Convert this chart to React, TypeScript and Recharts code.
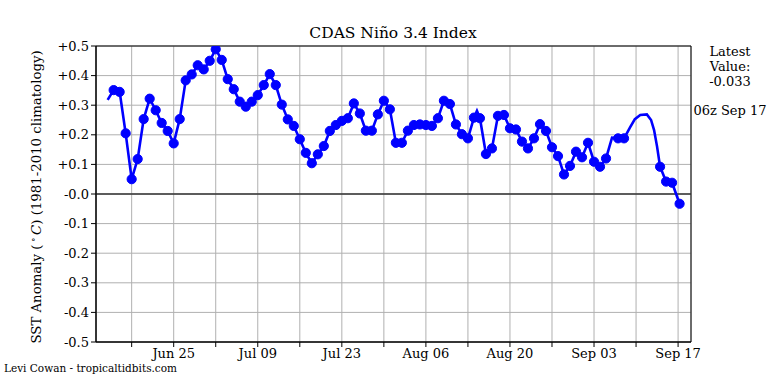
import React from 'react';
import {
  LineChart,
  Line,
  XAxis,
  YAxis,
  CartesianGrid,
  ReferenceLine,
  ReferenceArea,
} from 'recharts';

// days counted from Jun 25 (00z)
const DAYS = [
  -11, -10, -9, -8, -7, -6, -5, -4, -3, -2, -1, 0, 1, 2, 3, 4, 5, 6, 7, 8, 9, 10,
  11, 12, 13, 14, 15, 16, 17, 18, 19, 20, 21, 22, 23, 24, 25, 26, 27, 28, 29, 30,
  31, 32, 33, 34, 35, 36, 37, 38, 39, 40, 41, 42, 43, 44, 45, 46, 47, 48, 49, 50,
  50.5, 51, 52, 53, 54, 55, 56, 57, 58, 59, 60, 61, 62, 63, 64, 65, 66, 67, 68, 69,
  70, 71, 72, 73, 74, 75, 76, 76.8, 77.7, 78.8, 79.5, 80, 80.5, 81, 82, 83, 84.25,
];
const NINO34 = [
  0.318, 0.351, 0.345, 0.205, 0.05, 0.118, 0.253, 0.322, 0.283, 0.24, 0.213, 0.171,
  0.253, 0.384, 0.404, 0.435, 0.421, 0.45, 0.489, 0.453, 0.388, 0.354, 0.312, 0.295,
  0.312, 0.334, 0.368, 0.405, 0.368, 0.302, 0.252, 0.23, 0.185, 0.139, 0.104, 0.134,
  0.162, 0.213, 0.233, 0.247, 0.256, 0.306, 0.272, 0.214, 0.214, 0.269, 0.315, 0.286,
  0.173, 0.173, 0.214, 0.233, 0.235, 0.233, 0.23, 0.256, 0.315, 0.304, 0.235, 0.202,
  0.188, 0.258, 0.281, 0.256, 0.135, 0.154, 0.264, 0.267, 0.222, 0.218, 0.177, 0.154,
  0.188, 0.236, 0.213, 0.158, 0.128, 0.066, 0.095, 0.143, 0.124, 0.173, 0.109, 0.092,
  0.12, 0.19, 0.188, 0.188, 0.225, 0.253, 0.267, 0.269, 0.25, 0.216, 0.16, 0.092,
  0.042, 0.038, -0.033,
];
// samples drawn without a marker
const NO_MARKER = [-11, 50.5, 73, 76, 76.8, 77.7, 78.8, 79.5, 80, 80.5];

const X_TICKS = [-7, 0, 7, 14, 21, 28, 35, 42, 49, 56, 63, 70, 77, 84];
const X_LABELS: Record<number, string> = {
  0: 'Jun 25',
  14: 'Jul 09',
  28: 'Jul 23',
  42: 'Aug 06',
  56: 'Aug 20',
  70: 'Sep 03',
  84: 'Sep 17',
};
const Y_TICKS = [0.5, 0.4, 0.3, 0.2, 0.1, 0, -0.1, -0.2, -0.3, -0.4, -0.5];
const Y_LABELS = ['+0.5', '+0.4', '+0.3', '+0.2', '+0.1', '-0.0', '-0.1', '-0.2', '-0.3', '-0.4', '-0.5'];

const X_MIN = -12.94;
const X_MAX = 86.15;

const data = DAYS.map((d, i) => ({ day: d, value: NINO34[i] }));

const FONT = "'DejaVu Serif', serif";
const tickStyle = { fontSize: 13, fill: '#000', fontFamily: FONT };

export default function App() {
  const renderDot = (props: any) => {
    const { cx, cy, index, payload } = props;
    if (NO_MARKER.includes(payload.day)) return <g key={`d-${index}`} />;
    return <circle key={`d-${index}`} cx={cx} cy={cy} r={4.6} fill="#0000ff" stroke="#0000ff" strokeWidth={1} />;
  };

  return (
    <div style={{ position: 'absolute', left: 0, top: 0, width: 768, height: 384, background: '#fff', fontFamily: FONT }}>
      <LineChart
        width={768}
        height={384}
        data={data}
        margin={{ top: 46, right: 77, left: 36, bottom: 12 }}
        style={{ fontFamily: FONT }}
      >
        <CartesianGrid stroke="#b0b0b0" strokeWidth={1} />
        <XAxis
          dataKey="day"
          type="number"
          domain={[X_MIN, X_MAX]}
          ticks={X_TICKS}
          tickFormatter={(v) => X_LABELS[v] ?? ''}
          tick={tickStyle}
          tickLine={{ stroke: '#000' }}
          tickSize={5}
          axisLine={{ stroke: '#000' }}
          height={30}
          allowDataOverflow
        />
        <YAxis
          type="number"
          domain={[-0.5, 0.5]}
          ticks={Y_TICKS}
          tickFormatter={(v) => Y_LABELS[Y_TICKS.findIndex((t) => Math.abs(t - v) < 1e-6)]}
          tick={tickStyle}
          tickLine={{ stroke: '#000' }}
          tickSize={5}
          axisLine={{ stroke: '#000' }}
          width={60}
          allowDataOverflow
        />
        <ReferenceLine y={0} stroke="#333" strokeWidth={1.5} />
        <Line
          type="linear"
          dataKey="value"
          stroke="#0000ff"
          strokeWidth={2.6}
          dot={renderDot}
          activeDot={false}
          isAnimationActive={false}
        />
        <ReferenceArea x1={X_MIN} x2={X_MAX} y1={-0.5} y2={0.5} fill="none" fillOpacity={0} stroke="#000" strokeWidth={1} />
      </LineChart>

      <div style={{ position: 'absolute', left: 393, top: 33, transform: 'translate(-50%, -50%)', fontSize: 15.5, whiteSpace: 'nowrap' }}>
        CDAS Niño 3.4 Index
      </div>
      <div
        style={{
          position: 'absolute',
          left: 37,
          top: 197,
          transform: 'translate(-50%, -50%) rotate(-90deg)',
          fontSize: 13.3,
          lineHeight: '16px',
          whiteSpace: 'nowrap',
        }}
      >
        SST Anomaly ({'\u2009'}<sup style={{ fontSize: 9, lineHeight: 0 }}>∘</sup>{'\u2009'}<i>C</i>) (1981-2010 climatology)
      </div>
      <div style={{ position: 'absolute', left: 730, top: 44, transform: 'translateX(-50%)', fontSize: 13, lineHeight: '15px', textAlign: 'center', whiteSpace: 'nowrap' }}>
        Latest
        <br />
        Value:
        <br />
        -0.033
      </div>
      <div style={{ position: 'absolute', left: 730, top: 103, transform: 'translateX(-50%)', fontSize: 13, whiteSpace: 'nowrap', lineHeight: '15px' }}>
        06z Sep 17
      </div>
      <div style={{ position: 'absolute', left: 4, top: 362, fontSize: 10.5, whiteSpace: 'nowrap', lineHeight: '13px' }}>
        Levi Cowan - tropicaltidbits.com
      </div>
    </div>
  );
}
